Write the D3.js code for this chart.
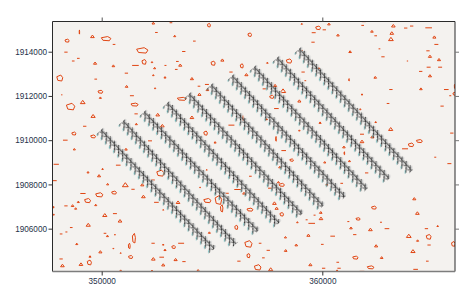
<!DOCTYPE html>
<html>
<head>
<meta charset="utf-8">
<script src="https://cdn.jsdelivr.net/npm/d3@7"></script>
<style>
  body { margin: 0; background: #fff; }
  svg { display: block; }
  text { font-family: "Liberation Sans", sans-serif; font-size: 8.2px; fill: #27324a; }
</style>
</head>
<body>
<div id="chart"></div>
<script>
// map extent and ticks (metres)
const xDomain = [347770, 366015];
const yDomain = [1904063, 1915366];
const xTicks = [350000, 360000];
const yTicks = [1906000, 1908000, 1910000, 1912000, 1914000];

// survey lines, start (NW) and end (SE)
const lineStartX = [349920, 350920, 351870, 352920, 353910, 354910, 355860, 356860, 357900, 358900];
const lineStartY = [1910420, 1910830, 1911240, 1911640, 1912050, 1912460, 1912870, 1913270, 1913680, 1914090];
const lineEndX = [355050, 356040, 357040, 357990, 359030, 359990, 360980, 361980, 362980, 364020];
const lineEndY = [1905040, 1905260, 1905850, 1906210, 1906620, 1906980, 1907390, 1907750, 1908210, 1908570];

// contour pieces: short open segments [x, y, length]
const contourDashes = [
  [353140,1915310,120],[352480,1914870,120],[354200,1914480,120],[350560,1914330,120],[348380,1913980,150],
  [353720,1914010,150],[348710,1913580,120],[348940,1913700,120],[351530,1913380,300],[352890,1913380,90],
  [353430,1913560,120],[353380,1913200,120],[351120,1913030,150],[355860,1913080,150],[349730,1912760,120],
  [354410,1912440,120],[354770,1912520,180],[351370,1912010,180],[348190,1912050,60],[351560,1911190,150],
  [349230,1910630,150],[348350,1910000,210],[352190,1909970,180],[355880,1910680,270],
  [361880,1915360,180],[361830,1915190,120],[363780,1915070,150],[364050,1915160,150],[364820,1915080,300],
  [359610,1914860,180],[360090,1914990,150],[362420,1914720,120],[359580,1914430,150],[365170,1914330,180],
  [362590,1914130,80],[364790,1914040,150],[359050,1914060,120],[362750,1913770,150],[363860,1913580,60],
  [364820,1913300,180],[365340,1913300,180],[359130,1913080,150],[364460,1913110,150],[359230,1912690,80],
  [357370,1912320,150],[363110,1912290,150],[365620,1912290,210],[365800,1912010,90],[362980,1911660,120],
  [365430,1911540,150],[357920,1911430,210],[361800,1910270,180],[365870,1910320,150],[363750,1909610,270],
  [347940,1908910,240],[350750,1908870,210],[347870,1908170,180],[351420,1907780,150],[352330,1908200,150],
  [349150,1907590,240],[348380,1907030,150],[352480,1907190,210],[350600,1906680,180],[348400,1905850,90],
  [348620,1906050,120],[348160,1905760,120],[350150,1905790,120],[352330,1905340,150],[353600,1905340,270],
  [348160,1904630,150],[352720,1904710,210],[353730,1904510,150],[355670,1907600,180],
  [358250,1909530,210],[356740,1908370,120],[357630,1907830,180],[356160,1907770,300],[362010,1908520,150],
  [360880,1908050,120],[360200,1907980,120],[365120,1909230,90],[365760,1908940,180],[359650,1906610,90],
  [359290,1906400,90],[359520,1906240,300],[361180,1906320,90],[362660,1906290,90],[362930,1906000,210],
  [364720,1906000,150],[360470,1905660,210],[361470,1905730,150],[357180,1905340,120],[360000,1905290,120],
  [364840,1905260,150],[357550,1905020,150],[357330,1904680,120],[356220,1904530,150],[360700,1904480,120],
  [364760,1904530,120],[360060,1904210,150],[360760,1904210,150],[364230,1904160,210],[361800,1904070,210]
];

// tight closed contours: [x, y, width]
const contourPeaks = [
  [352340,1915290,150],[349580,1914690,210],[353310,1914710,120],[349700,1913480,180],[350530,1913360,150],
  [353560,1913390,180],[355470,1913620,180],[352400,1913260,120],[352870,1912840,120],[352340,1912940,90],
  [352280,1913530,90],[354090,1912780,180],[351130,1912430,150],[352420,1912350,80],[354790,1912280,150],
  [354430,1912070,180],[349940,1911920,120],[349140,1911720,270],[349610,1911090,240],[352540,1911150,210],
  [354090,1911030,210],[351570,1910730,120],[352750,1910650,210],[355140,1909900,120],[351100,1909590,150],
  [348760,1909590,120],
  [359070,1915260,80],[360300,1915250,150],[363220,1915170,210],[362250,1914920,150],[360710,1914750,150],
  [363150,1914840,210],[365080,1914660,180],[363110,1914570,270],[361260,1914000,150],[364880,1913790,180],
  [365290,1913640,180],[357510,1913500,90],[359840,1913260,90],[364880,1912910,180],[356560,1912960,180],
  [362400,1912840,150],[357860,1912470,180],[358220,1912230,300],[364470,1912320,150],[361800,1912070,90],
  [358960,1911770,180],[361720,1911400,90],[362420,1910820,90],[359900,1910790,120],[357480,1910950,90],
  [363100,1910500,240],[358960,1910440,90],[362270,1910150,180],[361800,1909940,210],[360980,1909690,150],
  [349380,1908550,120],[350040,1908700,90],[349880,1908390,180],[350270,1908010,120],[351070,1907980,330],
  [351840,1907980,180],[351890,1907450,210],[348940,1907210,120],[348680,1907040,150],[348820,1906910,120],
  [349730,1907070,120],[347820,1906640,90],[350140,1906610,240],[350830,1906350,210],[349390,1906170,240],
  [352790,1906850,60],[353460,1907190,210],[350260,1905670,120],[350600,1905730,60],[348870,1905310,120],
  [352790,1905280,90],[352870,1905040,120],[349940,1904950,180],[350530,1905110,60],[350860,1904900,60],
  [349470,1904740,120],[352340,1904630,210],[353350,1904600,180],[349060,1904390,210],[348220,1904330,210],
  [352790,1904360,180],[350860,1904100,120],[352280,1904100,90],[354370,1904100,180],[354880,1905820,120],
  [354460,1907870,60],[354760,1908660,60],
  [358010,1908100,120],[356450,1907600,150],[358070,1908780,120],[360110,1909000,120],[361230,1909060,120],
  [364170,1907350,180],[357830,1907150,210],[357930,1906920,180],[364310,1906700,210],[359930,1906730,150],
  [359940,1906460,210],[358870,1906290,90],[361300,1906030,150],[362180,1905960,210],[365230,1906120,90],
  [359370,1905700,180],[363920,1905670,270],[358330,1905610,120],[364320,1905460,120],[358820,1905260,150],
  [362440,1905220,180],[358340,1905010,150],[364110,1904980,240],[362690,1904690,150],[359460,1904370,180],
  [357660,1904160,240],[360670,1904100,120]
];

// larger closed contours: [x, y, width, height]
const contourRings = [
  [354860,1915200,150,180],[348990,1914890,20,210],[350200,1914590,480,210],[348430,1914500,210,150],
  [351840,1914060,570,270],[351920,1913540,210,240],[355050,1913480,210,210],[348100,1912810,300,300],
  [349940,1912190,240,150],[353630,1911870,450,150],[351490,1911610,360,150],[348590,1911520,420,330],
  [348740,1910300,210,150],[349610,1910170,240,150],[354710,1910320,180,210],
  [359810,1915080,240,180],[356710,1914770,180,180],[358490,1913580,270,210],[356350,1913360,150,210],
  [361210,1912730,30,120],[366000,1912430,30,210],[357710,1911960,210,150],[365990,1912100,150,150],
  [356390,1911000,30,240],[357900,1910060,30,240],[364400,1909960,300,150],[364020,1909790,270,180],
  [349890,1907530,360,210],[350560,1907630,240,150],[349360,1907270,300,210],[347820,1906970,30,90],
  [352660,1908510,360,300],[351460,1905570,150,480],[351250,1905220,90,270],[353260,1905170,180,150],
  [351310,1904720,210,150],[349440,1904470,210,240],[354790,1907270,360,210],[355290,1907300,330,450],
  [355440,1906920,120,360],
  [358160,1907980,270,150],[358610,1909100,180,120],[361000,1909410,30,150],[356720,1906860,300,150],
  [358160,1906650,180,180],[362340,1906950,240,150],[361620,1906440,210,120],[356100,1906060,150,210],
  [364820,1905630,240,240],[356650,1905310,360,330],[365940,1905310,180,240],[356650,1904780,150,210],
  [361500,1904690,270,150],[357070,1904250,330,270],[362190,1904250,330,150]
];

const width = 471;
const height = 301;
const margin = { top: 21.5, right: 16, bottom: 29.5, left: 52.5 };
const innerW = width - margin.left - margin.right;
const innerH = height - margin.top - margin.bottom;

const x = d3.scaleLinear().domain(xDomain).range([margin.left, margin.left + innerW]);
const y = d3.scaleLinear().domain(yDomain).range([margin.top + innerH, margin.top]);

const svg = d3.select("#chart").append("svg").attr("width", width).attr("height", height);

svg.append("rect")
  .attr("x", margin.left).attr("y", margin.top)
  .attr("width", innerW).attr("height", innerH)
  .attr("fill", "#f4f2ef");

svg.append("clipPath").attr("id", "plot-clip").append("rect")
  .attr("x", margin.left).attr("y", margin.top)
  .attr("width", innerW).attr("height", innerH);

const plot = svg.append("g").attr("clip-path", "url(#plot-clip)").style("filter", "blur(0.25px)");

// contours
const contours = plot.append("g")
  .attr("fill", "none")
  .attr("stroke", "#e04512")
  .attr("stroke-width", 1)
  .attr("stroke-linejoin", "miter");

const outline = d3.line().x((d) => x(d[0])).y((d) => y(d[1]));

contours.selectAll("path.dash")
  .data(contourDashes)
  .join("path")
  .attr("class", "dash")
  .attr("d", ([cx, cy, w]) => outline([[cx - w / 2, cy], [cx + w / 2, cy]]));

contours.selectAll("path.peak")
  .data(contourPeaks)
  .join("path")
  .attr("class", "peak")
  .attr("d", ([cx, cy, w]) =>
    outline([[cx - w * 0.4, cy - w * 0.25], [cx, cy + w * 0.3], [cx + w * 0.4, cy - w * 0.25]]) + "Z"
  );

contours.selectAll("path.ring")
  .data(contourRings)
  .join("path")
  .attr("class", "ring")
  .attr("d", ([cx, cy, w, h]) =>
    outline([
      [cx - w * 0.45, cy + h * 0.2],
      [cx + w * 0.15, cy + h * 0.45],
      [cx + w * 0.45, cy + h * 0.05],
      [cx + w * 0.3, cy - h * 0.45],
      [cx - w * 0.3, cy - h * 0.35],
    ]) + "Z"
  );

// station glyph repeated along each survey line
const angle = (Math.atan2(
  y(lineEndY[9]) - y(lineStartY[9]),
  x(lineEndX[9]) - x(lineStartX[9])
) * 180) / Math.PI;
const step = 6;

const pattern = svg.append("defs").append("pattern")
  .attr("id", "stations")
  .attr("patternUnits", "userSpaceOnUse")
  .attr("x", 0).attr("y", -12)
  .attr("width", step).attr("height", 24);

[-step, 0, step].forEach((off) => {
  const g = pattern.append("g")
    .attr("transform", `translate(${step / 2 + off},12) rotate(${-angle})`);
  // grey halo first
  g.append("line").attr("x1", 0.8).attr("x2", 0.8).attr("y1", -5).attr("y2", 4)
    .attr("stroke", "#c8c9c9").attr("stroke-width", 2.6);
  g.append("line").attr("x1", -1).attr("x2", -1).attr("y1", 4).attr("y2", 7)
    .attr("stroke", "#5cb8bc").attr("stroke-width", 0.9);
});
[-step, 0, step].forEach((off) => {
  const g = pattern.append("g")
    .attr("transform", `translate(${step / 2 + off},12) rotate(${-angle})`);
  g.append("line").attr("x1", 0).attr("x2", 0).attr("y1", -5.5).attr("y2", 6.5)
    .attr("stroke", "#111").attr("stroke-width", 0.9);
  g.append("line").attr("x1", -2.6).attr("x2", 2.6).attr("y1", -1).attr("y2", -1)
    .attr("stroke", "#222").attr("stroke-width", 0.8);
  g.append("line").attr("x1", -2.4).attr("x2", 0).attr("y1", -5).attr("y2", -2)
    .attr("stroke", "#333").attr("stroke-width", 0.7);
});

plot.selectAll("rect.survey")
  .data(d3.range(lineStartX.length))
  .join("rect")
  .attr("class", "survey")
  .attr("transform", (i) =>
    `translate(${x(lineStartX[i])},${y(lineStartY[i])}) rotate(${
      (Math.atan2(y(lineEndY[i]) - y(lineStartY[i]), x(lineEndX[i]) - x(lineStartX[i])) * 180) / Math.PI
    })`
  )
  .attr("x", 0).attr("y", -11)
  .attr("width", (i) => Math.hypot(x(lineEndX[i]) - x(lineStartX[i]), y(lineEndY[i]) - y(lineStartY[i])))
  .attr("height", 22)
  .attr("fill", "url(#stations)");

// frame
svg.append("path")
  .attr("d", `M${margin.left},${margin.top + innerH}V${margin.top}H${margin.left + innerW}V${margin.top + innerH}`)
  .attr("fill", "none").attr("stroke", "#2a2a2a").attr("stroke-width", 1);
svg.append("line")
  .attr("x1", margin.left).attr("x2", margin.left + innerW)
  .attr("y1", margin.top + innerH).attr("y2", margin.top + innerH)
  .attr("stroke", "#7d7d7d").attr("stroke-width", 1.4);

// axes
const styleAxis = (g, color) => {
  g.select(".domain").remove();
  g.selectAll("line").attr("stroke", color);
};

svg.append("g")
  .attr("transform", `translate(0,${margin.top + innerH})`)
  .call(d3.axisBottom(x).tickValues(xTicks).tickSize(4).tickPadding(3).tickFormat(d3.format("d")))
  .call(styleAxis, "#333");
svg.append("g")
  .attr("transform", `translate(0,${margin.top})`)
  .call(d3.axisTop(x).tickValues(xTicks).tickSize(4).tickFormat(""))
  .call(styleAxis, "#555");
svg.append("g")
  .attr("transform", `translate(${margin.left},0)`)
  .call(d3.axisLeft(y).tickValues(yTicks).tickSize(4).tickPadding(1.5).tickFormat(d3.format("d")))
  .call(styleAxis, "#333");
svg.append("g")
  .attr("transform", `translate(${margin.left + innerW},0)`)
  .call(d3.axisRight(y).tickValues(yTicks).tickSize(4).tickFormat(""))
  .call(styleAxis, "#777");

svg.selectAll("text").style("font-family", null).style("font-size", null).attr("font-family", null).attr("font-size", null);
</script>
</body>
</html>
